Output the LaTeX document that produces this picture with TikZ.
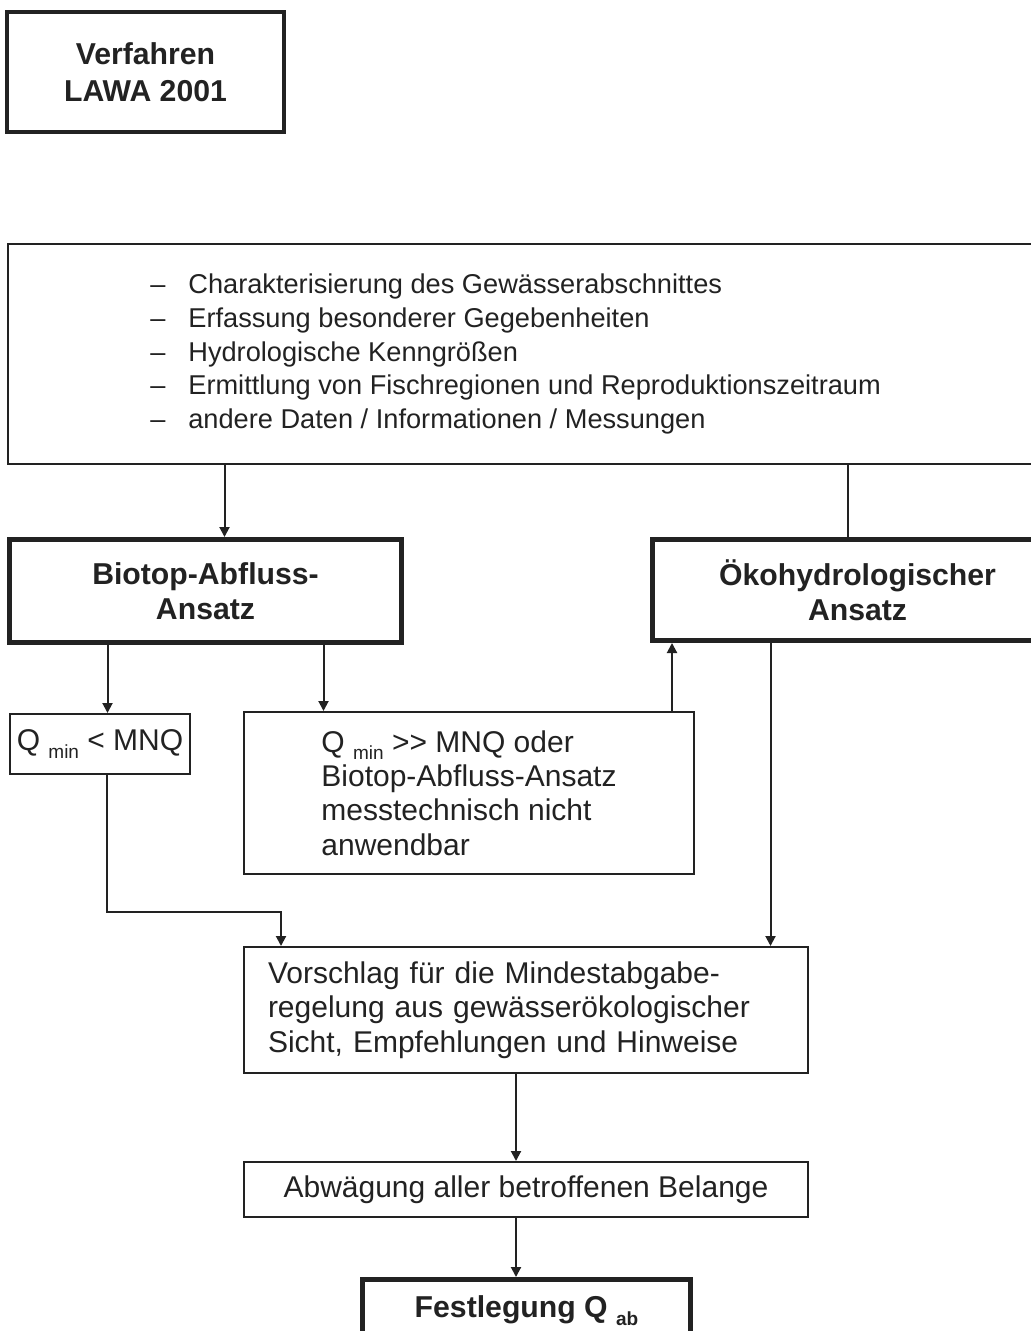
\documentclass[tikz,border=0pt]{standalone}
\usepackage{fontspec}
\setmainfont{Liberation Sans}
\usetikzlibrary{arrows.meta}
\definecolor{ink}{HTML}{222222}
\newcommand{\sub}[1]{\raisebox{-0.25em}{\fontsize{9.5}{9.5}\selectfont #1}}
\newcommand{\itm}{\makebox[19pt][l]{–}}
\tikzset{
  box/.style={draw=ink, line width=1pt, inner sep=0pt, anchor=north west},
  boxbold/.style={box, line width=2.5pt},
  txt/.style={font=\fontsize{15}{17.2}\selectfont, text=ink, inner sep=0pt, align=left},
  lst/.style={txt, font=\fontsize{13.6}{16.9}\selectfont},
  ttl/.style={font=\fontsize{15.1}{17.5}\selectfont\bfseries, text=ink, align=center},
  arr/.style={-{Triangle[length=5pt,width=5pt]}, draw=ink, line width=1pt},
  ln/.style={draw=ink, line width=1pt},
}
\begin{document}
\begin{tikzpicture}[x=0.5pt,y=-0.5pt]
  \path[use as bounding box, clip] (0,0) rectangle (1031,1331);
  % boxes
  \node[boxbold, ttl, line width=2pt, minimum width=138.5pt, minimum height=60pt,
        font=\fontsize{15.1}{18.5}\selectfont\bfseries] (lawa) at (5,10) {Verfahren\\LAWA 2001};
  \node[box, minimum width=519pt, minimum height=110pt] (data) at (7,243) {};
  \node[lst, anchor=west] (datalist) at ([xshift=71.5pt]data.west)
    {\itm Charakterisierung des Gewässerabschnittes\\
     \itm Erfassung besonderer Gegebenheiten\\
     \itm Hydrologische Kenngrößen\\
     \itm Ermittlung von Fischregionen und Reproduktionszeitraum\\
     \itm andere Daten / Informationen / Messungen};
  \node[boxbold, ttl, minimum width=196pt, minimum height=51.5pt] (biotop) at (7,537) {Biotop-Abfluss-\\Ansatz};
  \node[boxbold, ttl, minimum width=205pt, minimum height=50.5pt] (oeko) at (650,537) {Ökohydrologischer\\Ansatz};
  \node[box, txt, align=center, minimum width=90pt, minimum height=30pt] (qlow) at (9,713) {Q \sub{min} < MNQ};
  \node[box, txt, minimum width=225pt, minimum height=81pt] (qhigh) at (243,711)
    {Q \sub{min} >{}> MNQ oder\\Biotop-Abfluss-Ansatz\\messtechnisch nicht\\anwendbar};
  \node[box, txt, text width=258pt, inner xsep=12pt, minimum height=63pt] (vorschlag) at (243,946)
    {Vorschlag für die Mindestabgabe-\\regelung aus gewässerökologischer\\Sicht, Empfehlungen und Hinweise};
  \node[box, txt, align=center, minimum width=282pt, minimum height=27.5pt] (abw) at (243,1161) {Abwägung aller betroffenen Belange};
  \node[boxbold, ttl, minimum width=164pt, minimum height=31pt] (fest) at (360,1277) {Festlegung Q \sub{ab}};
  % connectors
  \coordinate (b1) at ([xshift=9.5pt]biotop.north);
  \coordinate (o1) at ([xshift=-5pt]oeko.north);
  \coordinate (b2) at ([xshift=-49pt]biotop.south);
  \coordinate (b3) at ([xshift=59pt]biotop.south);
  \coordinate (h1) at ([xshift=101.5pt]qhigh.north);
  \coordinate (o2) at ([xshift=-43.5pt]oeko.south);
  \coordinate (q1) at ([xshift=3.5pt]qlow.south);
  \coordinate (v0) at ([xshift=19pt]vorschlag.north west);
  \coordinate (v1) at ([xshift=-5pt]vorschlag.south);
  \draw[arr] (data.south -| b1) -- (b1);
  \draw[ln] (data.south -| o1) -- (o1);
  \draw[arr] (b2) -- (b2 |- qlow.north);
  \draw[arr] (b3) -- (b3 |- qhigh.north);
  \draw[arr] (h1) -- (h1 |- oeko.south);
  \draw[arr] (q1) -- ++(0,137) -| (v0);
  \draw[arr] (o2) -- (o2 |- vorschlag.north);
  \draw[arr] (v1) -- (v1 |- abw.north);
  \draw[arr] (abw.south -| v1) -- (v1 |- fest.north);
\end{tikzpicture}
\end{document}
